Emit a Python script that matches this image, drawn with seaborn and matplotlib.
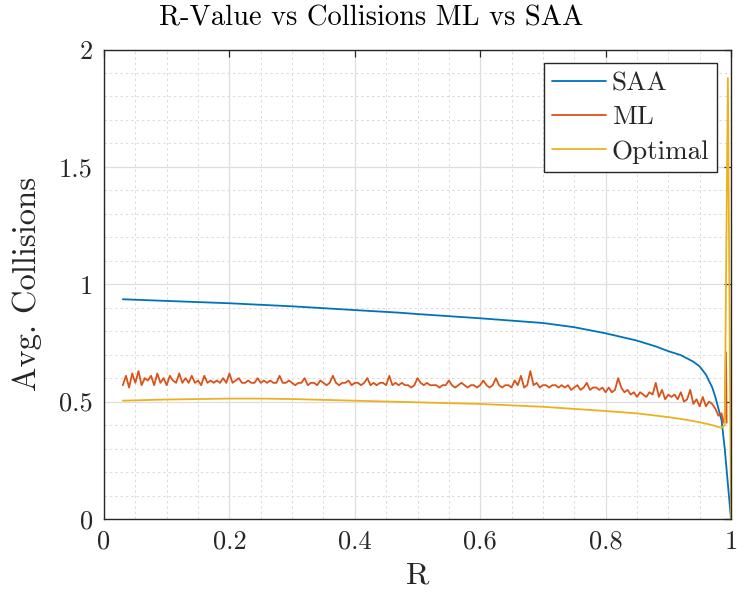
import numpy as np
import pandas as pd
import matplotlib
matplotlib.use("Agg")
import matplotlib.pyplot as plt
import seaborn as sns

# ---------------- data ----------------
saa_r = [0.03, 0.10, 0.20, 0.30, 0.40, 0.47, 0.50, 0.60, 0.70, 0.75, 0.80, 0.85,
         0.88, 0.90, 0.92, 0.94, 0.95, 0.96, 0.97, 0.975, 0.98, 0.985, 0.99, 0.995, 1.0]
saa_v = [0.936, 0.929, 0.919, 0.906, 0.890, 0.879, 0.873, 0.855, 0.835, 0.817, 0.791, 0.760,
         0.735, 0.715, 0.698, 0.670, 0.650, 0.615, 0.561, 0.520, 0.470, 0.420, 0.300, 0.150, 0.0]

opt_r = [0.03, 0.10, 0.20, 0.25, 0.30, 0.40, 0.50, 0.60, 0.70, 0.80, 0.85, 0.90,
         0.93, 0.95, 0.97, 0.98, 0.985, 0.99, 0.995, 1.0]
opt_v = [0.504, 0.509, 0.513, 0.513, 0.511, 0.504, 0.497, 0.490, 0.478, 0.460, 0.450, 0.434,
         0.422, 0.412, 0.400, 0.392, 0.388, 0.400, 1.878, 0.0]

ml_r = [round(0.03 + 0.005 * i, 4) for i in range(192)] + [0.9875, 0.990, 0.992, 0.993]
ml_v = [
    0.57, 0.61, 0.56, 0.62, 0.58, 0.63, 0.57, 0.60, 0.59, 0.61,
    0.57, 0.62, 0.58, 0.60, 0.57, 0.61, 0.59, 0.58, 0.62, 0.58,
    0.60, 0.58, 0.61, 0.58, 0.59, 0.57, 0.61, 0.58, 0.59, 0.58,
    0.59, 0.58, 0.60, 0.58, 0.62, 0.58, 0.59, 0.60, 0.58, 0.58,
    0.59, 0.58, 0.58, 0.60, 0.58, 0.59, 0.58, 0.59, 0.58, 0.58,
    0.61, 0.58, 0.58, 0.59, 0.58, 0.57, 0.58, 0.58, 0.60, 0.57,
    0.58, 0.58, 0.57, 0.59, 0.58, 0.57, 0.58, 0.61, 0.58, 0.57,
    0.58, 0.58, 0.59, 0.57, 0.58, 0.58, 0.57, 0.58, 0.60, 0.57,
    0.58, 0.57, 0.58, 0.58, 0.57, 0.61, 0.57, 0.58, 0.57, 0.58,
    0.57, 0.57, 0.56, 0.57, 0.60, 0.58, 0.57, 0.58, 0.57, 0.57,
    0.57, 0.56, 0.57, 0.57, 0.59, 0.57, 0.56, 0.57, 0.58, 0.57,
    0.56, 0.57, 0.57, 0.56, 0.57, 0.59, 0.57, 0.56, 0.57, 0.60,
    0.57, 0.56, 0.57, 0.57, 0.56, 0.59, 0.57, 0.61, 0.56, 0.57,
    0.63, 0.57, 0.58, 0.56, 0.57, 0.57, 0.56, 0.57, 0.57, 0.56,
    0.57, 0.56, 0.57, 0.55, 0.56, 0.57, 0.55, 0.56, 0.58, 0.55,
    0.56, 0.56, 0.55, 0.56, 0.54, 0.56, 0.54, 0.55, 0.60, 0.56,
    0.54, 0.55, 0.53, 0.54, 0.52, 0.54, 0.53, 0.52, 0.54, 0.53,
    0.58, 0.52, 0.55, 0.51, 0.53, 0.52, 0.53, 0.51, 0.54, 0.50,
    0.51, 0.55, 0.49, 0.51, 0.48, 0.52, 0.48, 0.50, 0.49, 0.47,
    0.44, 0.45,
    0.41, 0.43, 0.71, 0.41,
]

series_names = ["SAA", "ML", "Optimal"]
colors = ["#0072BD", "#D95319", "#EDB120"]

x_ticks = [0, 0.2, 0.4, 0.6, 0.8, 1]
x_labels = ["0", "0.2", "0.4", "0.6", "0.8", "1"]
y_ticks = [0, 0.5, 1, 1.5, 2]
y_labels = ["0", "0.5", "1", "1.5", "2"]

df = pd.concat([
    pd.DataFrame({"R": saa_r, "val": saa_v, "Method": "SAA"}),
    pd.DataFrame({"R": ml_r, "val": ml_v, "Method": "ML"}),
    pd.DataFrame({"R": opt_r, "val": opt_v, "Method": "Optimal"}),
], ignore_index=True)

# ---------------- style ----------------
sns.set_style("white")
plt.rcParams["font.family"] = ["cmr10", "DejaVu Serif"]
plt.rcParams["mathtext.fontset"] = "cm"
plt.rcParams["axes.formatter.use_mathtext"] = True

fig = plt.figure(figsize=(7.37, 6.03), dpi=100)
ax = fig.add_axes([104 / 737, 84 / 603, 627 / 737, 469.5 / 603])

sns.lineplot(data=df, x="R", y="val", hue="Method", hue_order=series_names,
             palette=colors, estimator=None, sort=False, linewidth=1.3, ax=ax)

ax.set_xlim(0, 1)
ax.set_ylim(0, 2)
ax.set_xticks(x_ticks)
ax.set_xticklabels(x_labels)
ax.set_yticks(y_ticks)
ax.set_yticklabels(y_labels)
ax.set_xticks(np.arange(0, 1.0001, 0.05), minor=True)
ax.set_yticks(np.arange(0, 2.0001, 0.1), minor=True)

ax.grid(True, which="major", color="#dedede", linestyle="-", linewidth=0.9)
ax.grid(True, which="minor", color="#dadada", linestyle=(0, (2.5, 3)), linewidth=0.7)
ax.set_axisbelow(True)

ax.tick_params(axis="both", which="major", direction="in", length=5, width=0.9,
               top=True, right=True, labelsize=19, color="#262626", labelcolor="#262626", pad=8)
ax.tick_params(axis="both", which="minor", length=0, top=True, right=True)
for s in ax.spines.values():
    s.set_color("#262626")
    s.set_linewidth(1.0)

ax.set_xlabel("R", fontsize=23, color="#262626", labelpad=6)
ax.set_ylabel("Avg. Collisions", fontsize=23.5, color="#262626", labelpad=12)
fig.text(371 / 737, 1 - 18 / 603, "R-Value vs Collisions ML vs SAA", fontsize=20.5,
         color="#000000", ha="center", va="center")

handles, labels = ax.get_legend_handles_labels()
leg = ax.legend(handles, labels, loc="upper right", fontsize=19.5, frameon=True,
                fancybox=False, edgecolor="#262626", framealpha=1,
                borderaxespad=0.5, handlelength=2.0, handletextpad=0.2,
                borderpad=0.3, labelspacing=0.38)
leg.get_frame().set_linewidth(1.0)

fig.savefig("out.png", dpi=100)
